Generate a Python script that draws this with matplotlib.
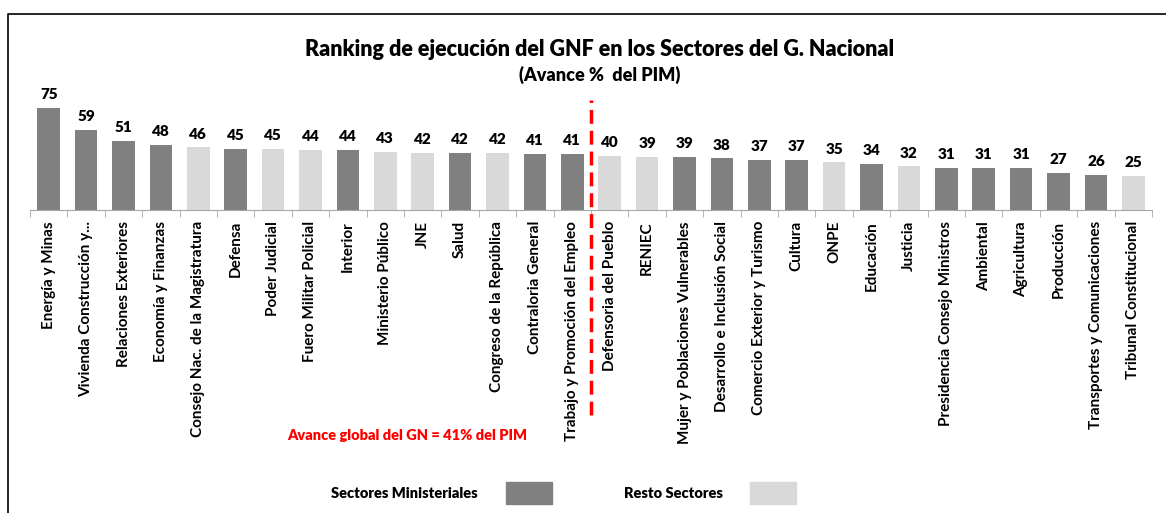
import matplotlib.pyplot as plt
from matplotlib.patches import Rectangle
from matplotlib.lines import Line2D
import numpy as np

plt.rcParams['font.family'] = ['Lato', 'DejaVu Sans']
plt.rcParams['font.weight'] = 'bold'

# data
sectores = ['Energía y Minas', 'Vivienda Construcción y...', 'Relaciones Exteriores',
            'Economía y Finanzas', 'Consejo Nac. de la Magistratura', 'Defensa',
            'Poder Judicial', 'Fuero Militar Policial', 'Interior', 'Ministerio Público',
            'JNE', 'Salud', 'Congreso de la República', 'Contraloria General',
            'Trabajo y Promoción del Empleo', 'Defensoria del Pueblo', 'RENIEC',
            'Mujer y Poblaciones Vulnerables', 'Desarrollo e Inclusión Social',
            'Comercio Exterior y Turismo', 'Cultura', 'ONPE', 'Educación', 'Justicia',
            'Presidencia Consejo Ministros', 'Ambiental', 'Agricultura', 'Producción',
            'Transportes y Comunicaciones', 'Tribunal Constitucional']
avance = [75, 59, 51, 48, 46, 45, 45, 44, 44, 43, 42, 42, 42, 41, 41,
          40, 39, 39, 38, 37, 37, 35, 34, 32, 31, 31, 31, 27, 26, 25]
# 1 = sector ministerial, 0 = resto
ministerial = [1, 1, 1, 1, 0, 1, 0, 0, 1, 0, 0, 1, 0, 1, 1,
               0, 0, 1, 1, 1, 1, 0, 1, 0, 1, 1, 1, 1, 1, 0]
avance_global = 41

dark = '#808080'
light = '#d9d9d9'
colors = [dark if m else light for m in ministerial]

W, H = 1166, 513
fig = plt.figure(figsize=(W / 100, H / 100), dpi=100)
ax = fig.add_axes([30 / W, 1 - 210 / H, 1122 / W, 136 / H])

x = np.arange(len(sectores))
ax.bar(x, avance, width=0.6, color=colors, zorder=2)
for xi, v in zip(x, avance):
    ax.text(xi, v + 5, str(v), ha='center', va='bottom', fontsize=11, fontweight='heavy')

ax.set_xlim(-0.5, len(sectores) - 0.5)
ax.set_ylim(0, 100)
ax.set_yticks([])
for s in ['top', 'right', 'left']:
    ax.spines[s].set_visible(False)
ax.spines['bottom'].set_color('#a6a6a6')
ax.set_xticks(x)
ax.set_xticklabels(sectores, rotation=90, fontsize=11, fontweight='bold', va='top')
ax.tick_params(axis='x', which='major', length=0, pad=8)
ax.set_xticks(np.arange(-0.5, len(sectores)), minor=True)
ax.tick_params(axis='x', which='minor', length=5, color='#a6a6a6')

# red dashed separator
ax.plot([14.5, 14.5], [-151, 81], color='#ff0000', lw=2.5, ls=(0, (4, 2)),
        clip_on=False, zorder=3)

fig.text(600 / W, 1 - 50 / H, 'Ranking de ejecución del GNF en los Sectores del G. Nacional',
         ha='center', va='center', fontsize=15.5, fontweight='heavy')
fig.text(600 / W, 1 - 75 / H, '(Avance %  del PIM)', ha='center', va='center',
         fontsize=13, fontweight='heavy')
fig.text(407 / W, 1 - 435 / H, f'Avance global del GN = {avance_global}% del PIM',
         ha='center', va='center', fontsize=10.5, fontweight='heavy', color='#ff0000')

# legend
fig.text(404 / W, 1 - 493 / H, 'Sectores Ministeriales', ha='center', va='center',
         fontsize=10.5, fontweight='heavy')
fig.patches.append(Rectangle((506 / W, 1 - 504 / H), 46 / W, 22 / H, color=dark,
                             transform=fig.transFigure, figure=fig))
fig.text(673 / W, 1 - 493 / H, 'Resto Sectores', ha='center', va='center',
         fontsize=10.5, fontweight='heavy')
fig.patches.append(Rectangle((750 / W, 1 - 504 / H), 46 / W, 22 / H, color=light,
                             transform=fig.transFigure, figure=fig))

# outer frame (left + top)
fig.lines.append(Line2D([8 / W, 8 / W, 1], [0, 1 - 14 / H, 1 - 14 / H], color='black',
                        lw=1.2, transform=fig.transFigure, figure=fig))

fig.savefig('out.png', dpi=100)
